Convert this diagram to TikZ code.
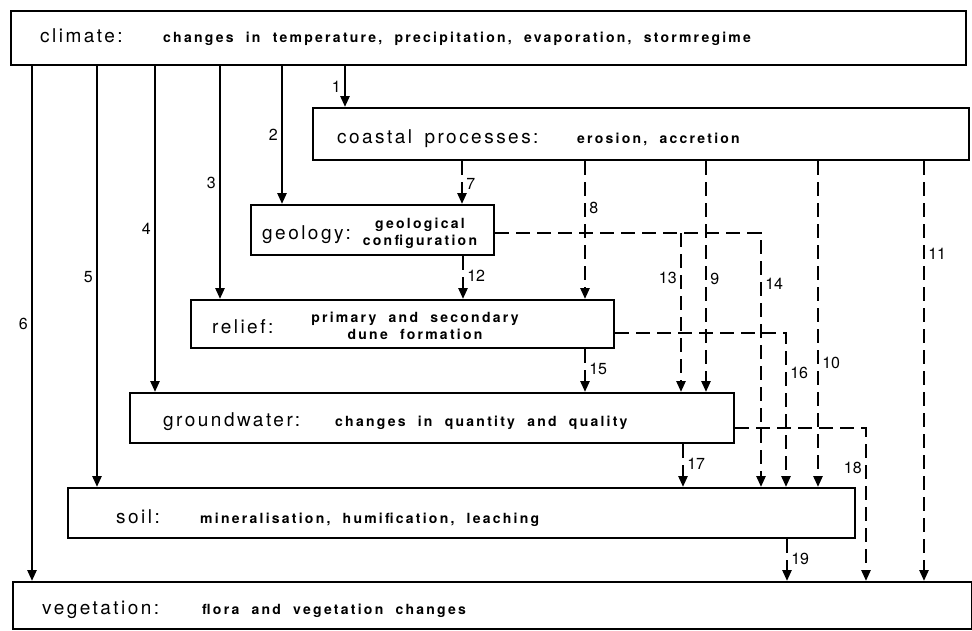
\documentclass[tikz,border=0pt]{standalone}
\usepackage{fontspec}
\setmainfont{TeX Gyre Heros}
\newfontfamily\labfont[LetterSpace=13, WordSpace=1.6]{TeX Gyre Heros}
\newfontfamily\descfont[LetterSpace=16, WordSpace=2]{TeX Gyre Heros}
\usetikzlibrary{arrows.meta}
\tikzset{
    box/.style={draw, line width=2.2pt, inner sep=0pt, anchor=north west},
    lab/.style={anchor=base west, inner sep=0pt, font=\labfont\fontsize{19}{21}\selectfont},
    desc/.style={anchor=base west, inner sep=0pt, font=\descfont\bfseries\fontsize{14}{17}\selectfont},
    num/.style={font=\fontsize{16}{18}\selectfont, inner sep=3pt},
    flow/.style={line width=2.5pt, -{Triangle[length=11pt,width=9pt]}},
    dflow/.style={flow, dash pattern=on 14pt off 7pt},
}

\begin{document}
\begin{tikzpicture}[x=1pt, y=-1pt]
            \useasboundingbox (0,0) rectangle (972,630);
            % boxes
            \node[box, minimum width=955, minimum height=54] (climate) at (10,10) {};
            \node[box, minimum width=656, minimum height=52] (coastal) at (312,107) {};
            \node[box, minimum width=243, minimum height=50] (geology) at (250,204) {};
            \node[box, minimum width=423, minimum height=48] (relief) at (190,299) {};
            \node[box, minimum width=604, minimum height=50] (groundwater) at (129,392) {};
            \node[box, minimum width=787, minimum height=50] (soil) at (67,487) {};
            \node[box, minimum width=959, minimum height=47] (vegetation) at (12,581) {};
            % texts
            \node[lab] (climate-l) at (40,42) {climate:};
            \node[desc] (climate-d) at (163,42) {changes in temperature, precipitation, evaporation, stormregime};
            \node[lab] (coastal-l) at (337,143) {coastal processes:};
            \node[desc] (coastal-d) at (577,143) {erosion, accretion};
            \node[lab] (geology-l) at (262,239) {geology:};
            \node[desc, anchor=center, align=center] (geology-d) at (420,233) {geological\\configuration};
            \node[lab] (relief-l) at (212,333) {relief:};
            \node[desc, anchor=center, align=center] (relief-d) at (415,326) {primary and secondary\\dune formation};
            \node[lab] (groundwater-l) at (163,426) {groundwater:};
            \node[desc] (groundwater-d) at (335,426) {changes in quantity and quality};
            \node[lab] (soil-l) at (116,523) {soil:};
            \node[desc] (soil-d) at (200,523) {mineralisation, humification, leaching};
            \node[lab] (vegetation-l) at (42,614) {vegetation:};
            \node[desc] (vegetation-d) at (202,614) {flora and vegetation changes};
            % columns
            \foreach \n/\x in {1/345,2/282,3/220,4/155,5/97,6/32,7/462,8/585,9/706,10/818,11/924,
                12/463,13/681,14/761,15/585,16/786,17/683,18/866,19/787}
                \coordinate (c\n) at (\x,0);
            \coordinate (geo-r) at ([yshift=-3pt]geology.east);
            \coordinate (rel-r) at ([yshift=-9pt]relief.east);
            \coordinate (gw-r) at ([yshift=-10pt]groundwater.east);
            % climate
            \foreach \n/\t in {1/coastal,2/geology,3/relief,4/groundwater,5/soil,6/vegetation}
                \draw[flow] (climate.south -| c\n) -- node[num, left]{\n} (\t.north -| c\n);
            % coastal processes
            \foreach \n/\t/\p in {7/geology/.53,8/relief/.34,9/groundwater/.51,10/soil/.62,11/vegetation/.22}
                \draw[dflow] (coastal.south -| c\n) -- node[num, right, pos=\p]{\n} (\t.north -| c\n);
            % one level down
            \foreach \n/\s/\t in {12/geology/relief,15/relief/groundwater,17/groundwater/soil,19/soil/vegetation}
                \draw[dflow] (\s.south -| c\n) -- node[num, right, pos=.47]{\n} (\t.north -| c\n);
            % side branches
            \draw[dflow] (geo-r) -| node[num, right, pos=.6]{14} (soil.north -| c14);
            \draw[dflow] (geo-r -| c13) -- node[num, left, pos=.28]{13} (groundwater.north -| c13);
            \draw[dflow] (rel-r) -| node[num, right, pos=.63]{16} (soil.north -| c16);
            \draw[dflow] (gw-r) -| node[num, left, pos=.63]{18} (vegetation.north -| c18);
        \end{tikzpicture}
\end{document}
